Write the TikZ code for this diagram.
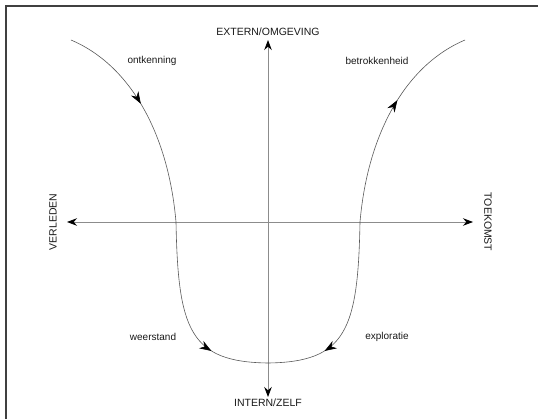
\documentclass[tikz,border=0pt]{standalone}
\usepackage{fontspec}
\setmainfont{Liberation Sans}
\usetikzlibrary{arrows.meta,positioning,decorations.markings}

\begin{document}
\begin{tikzpicture}[
    x=1pt,
    y=-1pt,
    axis/.style={
        draw=black!45,
        line width=0.8pt,
        {Stealth[black,length=10pt,width=7.5pt]}-{Stealth[black,length=10pt,width=7.5pt]}
    },
    axislabel/.style={
        font=\fontsize{10.5}{12}\selectfont,
        text=black!90,
        inner sep=1pt
    },
    stagelabel/.style={
        font=\fontsize{10}{12}\selectfont,
        text=black!90,
        inner sep=1pt
    },
    curve/.style={
        draw=black!65,
        line width=0.6pt
    },
    frame/.style={
        draw=black!75,
        line width=1.3pt
    }
]
    \useasboundingbox (0,0) rectangle (538,419);

    % Frame (top and left only)
    \draw [frame] (6,419) -- (6,6) -- (538,6);

    % Axis end points
    \coordinate (ext) at (268,40);
    \coordinate (int) at (268,397);
    \coordinate (past) at (67,222);
    \coordinate (future) at (473,222);

    % Axes
    \path [axis] (int) -- (ext);
    \path [axis] (past) -- (future);

    % Axis labels
    \node [axislabel, above=3pt of ext] (extlabel) {EXTERN/OMGEVING};
    \node [axislabel, below=1pt of int] (intlabel) {INTERN/ZELF};
    \node [axislabel, rotate=90] (pastlabel) at ([xshift=-14pt]past) {VERLEDEN};
    \node [axislabel, rotate=-90] (futurelabel) at ([xshift=15pt]future) {TOEKOMST};

    % Curve points
    \coordinate (lstart) at (71,40);
    \coordinate (lmid) at (176,222);
    \coordinate (bottom) at (268,363);
    \coordinate (rmid) at (360,222);
    \coordinate (rend) at (465,40);

    % Left curve
    \path [curve, postaction={decorate}, decoration={markings,
        mark=at position 0.23 with {\arrow{Stealth[black,length=12pt,width=8.5pt]}},
        mark=at position 0.86 with {\arrow{Stealth[black,length=12pt,width=8.5pt]}}}]
        (lstart) .. controls (128,64) and (168,130) .. (lmid)
        .. controls (178,330) and (190,362) .. (bottom);

    % Right curve
    \path [curve, postaction={decorate}, decoration={markings,
        mark=at position 0.14 with {\arrowreversed{Stealth[black,length=12pt,width=8.5pt]}},
        mark=at position 0.78 with {\arrow{Stealth[black,length=12pt,width=8.5pt]}}}]
        (bottom) .. controls (346,362) and (358,330) .. (rmid)
        .. controls (368,130) and (408,64) .. (rend);

    % Stage labels
    \node [stagelabel] (denial) at (152,61) {ontkenning};
    \node [stagelabel] (commit) at (377,61) {betrokkenheid};
    \node [stagelabel] (resist) at (153,337) {weerstand};
    \node [stagelabel] (explore) at (387,337) {exploratie};
\end{tikzpicture}
\end{document}
